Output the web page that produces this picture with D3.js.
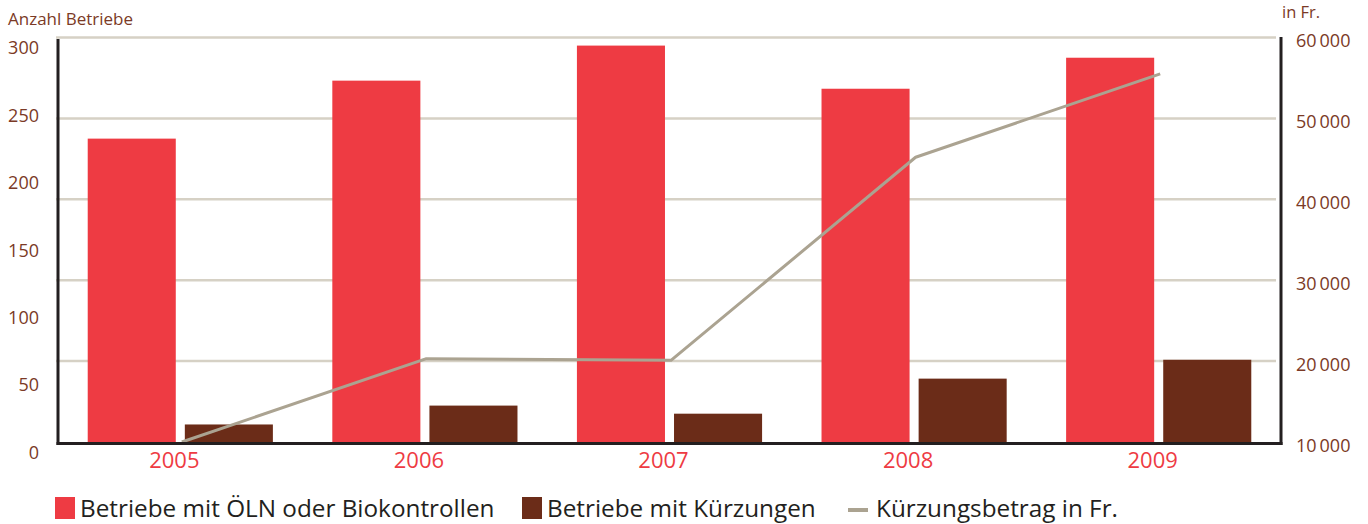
<!DOCTYPE html>
<html>
<head>
<meta charset="utf-8">
<script src="https://cdn.jsdelivr.net/npm/d3@7"></script>
<style>
  html, body { margin: 0; padding: 0; background: #fff; }
  svg { display: block; font-family: "Open Sans", "Noto Sans", sans-serif; }
</style>
</head>
<body>
<svg id="chart" width="1368" height="524"></svg>
<script>
// Kontrollen und Kürzungen 2005–2009
const years = ["2005", "2006", "2007", "2008", "2009"];
const betriebeKontrollen = [225, 268, 294, 262, 285];   // Betriebe mit ÖLN oder Biokontrollen
const betriebeKuerzungen = [13, 27, 21, 47, 61];        // Betriebe mit Kürzungen
const kuerzungsbetrag = [10000, 20300, 20100, 45200, 55500]; // Kürzungsbetrag in Fr.

const leftTicks = [0, 50, 100, 150, 200, 250, 300];
const rightTicks = [10000, 20000, 30000, 40000, 50000, 60000];

const legendItems = [
  { label: "Betriebe mit ÖLN oder Biokontrollen", type: "rect", color: "#ee3b43" },
  { label: "Betriebe mit Kürzungen", type: "rect", color: "#6b2c18" },
  { label: "Kürzungsbetrag in Fr.", type: "line", color: "#aba391" }
];

const RED = "#ee3b43", BROWN = "#6b2c18", LINE = "#aba391";
const GRID = "#d6d1c5", AXIS = "#231f20", LABEL = "#7b3a26";

const svg = d3.select("#chart");

const plotLeft = 58, plotRight = 1281, plotBottom = 442, plotTop = 37.5;

const x = d3.scaleBand().domain(years).range([plotLeft, plotRight]);
const yL = d3.scaleLinear().domain([0, 300]).range([plotBottom, plotTop]);
const yR = d3.scaleLinear().domain([10000, 60000]).range([plotBottom, plotTop]);

// bar placement inside each year band
const bw = x.bandwidth();
const barW = bw * 0.36;
const gap = bw * 0.037;
const cx = d => x(d) + bw / 2;

// horizontal grid lines (right scale)
svg.append("g")
  .selectAll("line")
  .data(rightTicks.filter(t => t > 10000))
  .join("line")
  .attr("x1", 56).attr("x2", 1276)
  .attr("y1", d => yR(d)).attr("y2", d => yR(d))
  .attr("stroke", GRID).attr("stroke-width", 2.5);

// bars
const rows = years.map((y, i) => ({ year: y, a: betriebeKontrollen[i], b: betriebeKuerzungen[i], c: kuerzungsbetrag[i] }));

svg.append("g").selectAll("rect")
  .data(rows).join("rect")
  .attr("x", d => cx(d.year) - gap / 2 - barW)
  .attr("width", barW)
  .attr("y", d => yL(d.a))
  .attr("height", d => yL(0) - yL(d.a))
  .attr("fill", RED);

svg.append("g").selectAll("rect")
  .data(rows).join("rect")
  .attr("x", d => cx(d.year) + gap / 2)
  .attr("width", barW)
  .attr("y", d => yL(d.b))
  .attr("height", d => yL(0) - yL(d.b))
  .attr("fill", BROWN);

// amount line
const line = d3.line()
  .x(d => cx(d.year) + 1.5)
  .y(d => yR(d.c));

svg.append("path")
  .datum(rows)
  .attr("d", line)
  .attr("fill", "none")
  .attr("stroke", LINE)
  .attr("stroke-width", 3)
  .attr("stroke-linejoin", "round");

// frame lines
svg.append("line").attr("x1", plotLeft).attr("x2", plotLeft).attr("y1", 39).attr("y2", 445)
  .attr("stroke", AXIS).attr("stroke-width", 3);
svg.append("line").attr("x1", plotRight).attr("x2", plotRight).attr("y1", 37).attr("y2", 445)
  .attr("stroke", AXIS).attr("stroke-width", 3);
svg.append("line").attr("x1", 56.5).attr("x2", 1282.5).attr("y1", 443.5).attr("y2", 443.5)
  .attr("stroke", AXIS).attr("stroke-width", 3);

// left axis labels
const leftAxis = svg.append("g")
  .attr("transform", "translate(39,10.5)")
  .call(d3.axisLeft(yL).tickValues(leftTicks).tickSize(0).tickPadding(0));
leftAxis.select(".domain").remove();
leftAxis.selectAll("text")
  .attr("fill", LABEL).attr("font-size", 18).attr("font-family", "Open Sans");

// right axis labels
const fmt = d => d3.format(",")(d).replace(/,/g, "\u2009");
const rightAxis = svg.append("g")
  .attr("transform", "translate(1296,3.5)")
  .call(d3.axisRight(yR).tickValues(rightTicks).tickSize(0).tickPadding(0).tickFormat(fmt));
rightAxis.select(".domain").remove();
rightAxis.selectAll("text")
  .attr("fill", LABEL).attr("font-size", 18).attr("font-family", "Open Sans");

// year labels
const bottomAxis = svg.append("g")
  .attr("transform", "translate(-6,443)")
  .call(d3.axisBottom(x).tickSize(0).tickPadding(9));
bottomAxis.select(".domain").remove();
bottomAxis.selectAll("text")
  .attr("fill", RED).attr("font-size", 22).attr("font-family", "Open Sans");

// axis titles
svg.append("text").attr("x", 8).attr("y", 25)
  .attr("fill", LABEL).attr("font-size", 17).text("Anzahl Betriebe");
svg.append("text").attr("x", 1282).attr("y", 18)
  .attr("fill", LABEL).attr("font-size", 16.5).text("in Fr.");

// legend
const legendX = [55, 522, 848];
const legend = svg.append("g");
legendItems.forEach((item, i) => {
  const g = legend.append("g").attr("transform", `translate(${legendX[i]},0)`);
  if (item.type === "rect") {
    g.append("rect").attr("x", 0).attr("y", 497).attr("width", 20).attr("height", 22).attr("fill", item.color);
  } else {
    g.append("line").attr("x1", 0).attr("x2", 20).attr("y1", 510).attr("y2", 510)
      .attr("stroke", item.color).attr("stroke-width", 4);
  }
  g.append("text").attr("x", item.type === "rect" ? 25 : 28).attr("y", 516.5)
    .attr("fill", AXIS).attr("font-size", 24.3).text(item.label);
});
</script>
</body>
</html>
